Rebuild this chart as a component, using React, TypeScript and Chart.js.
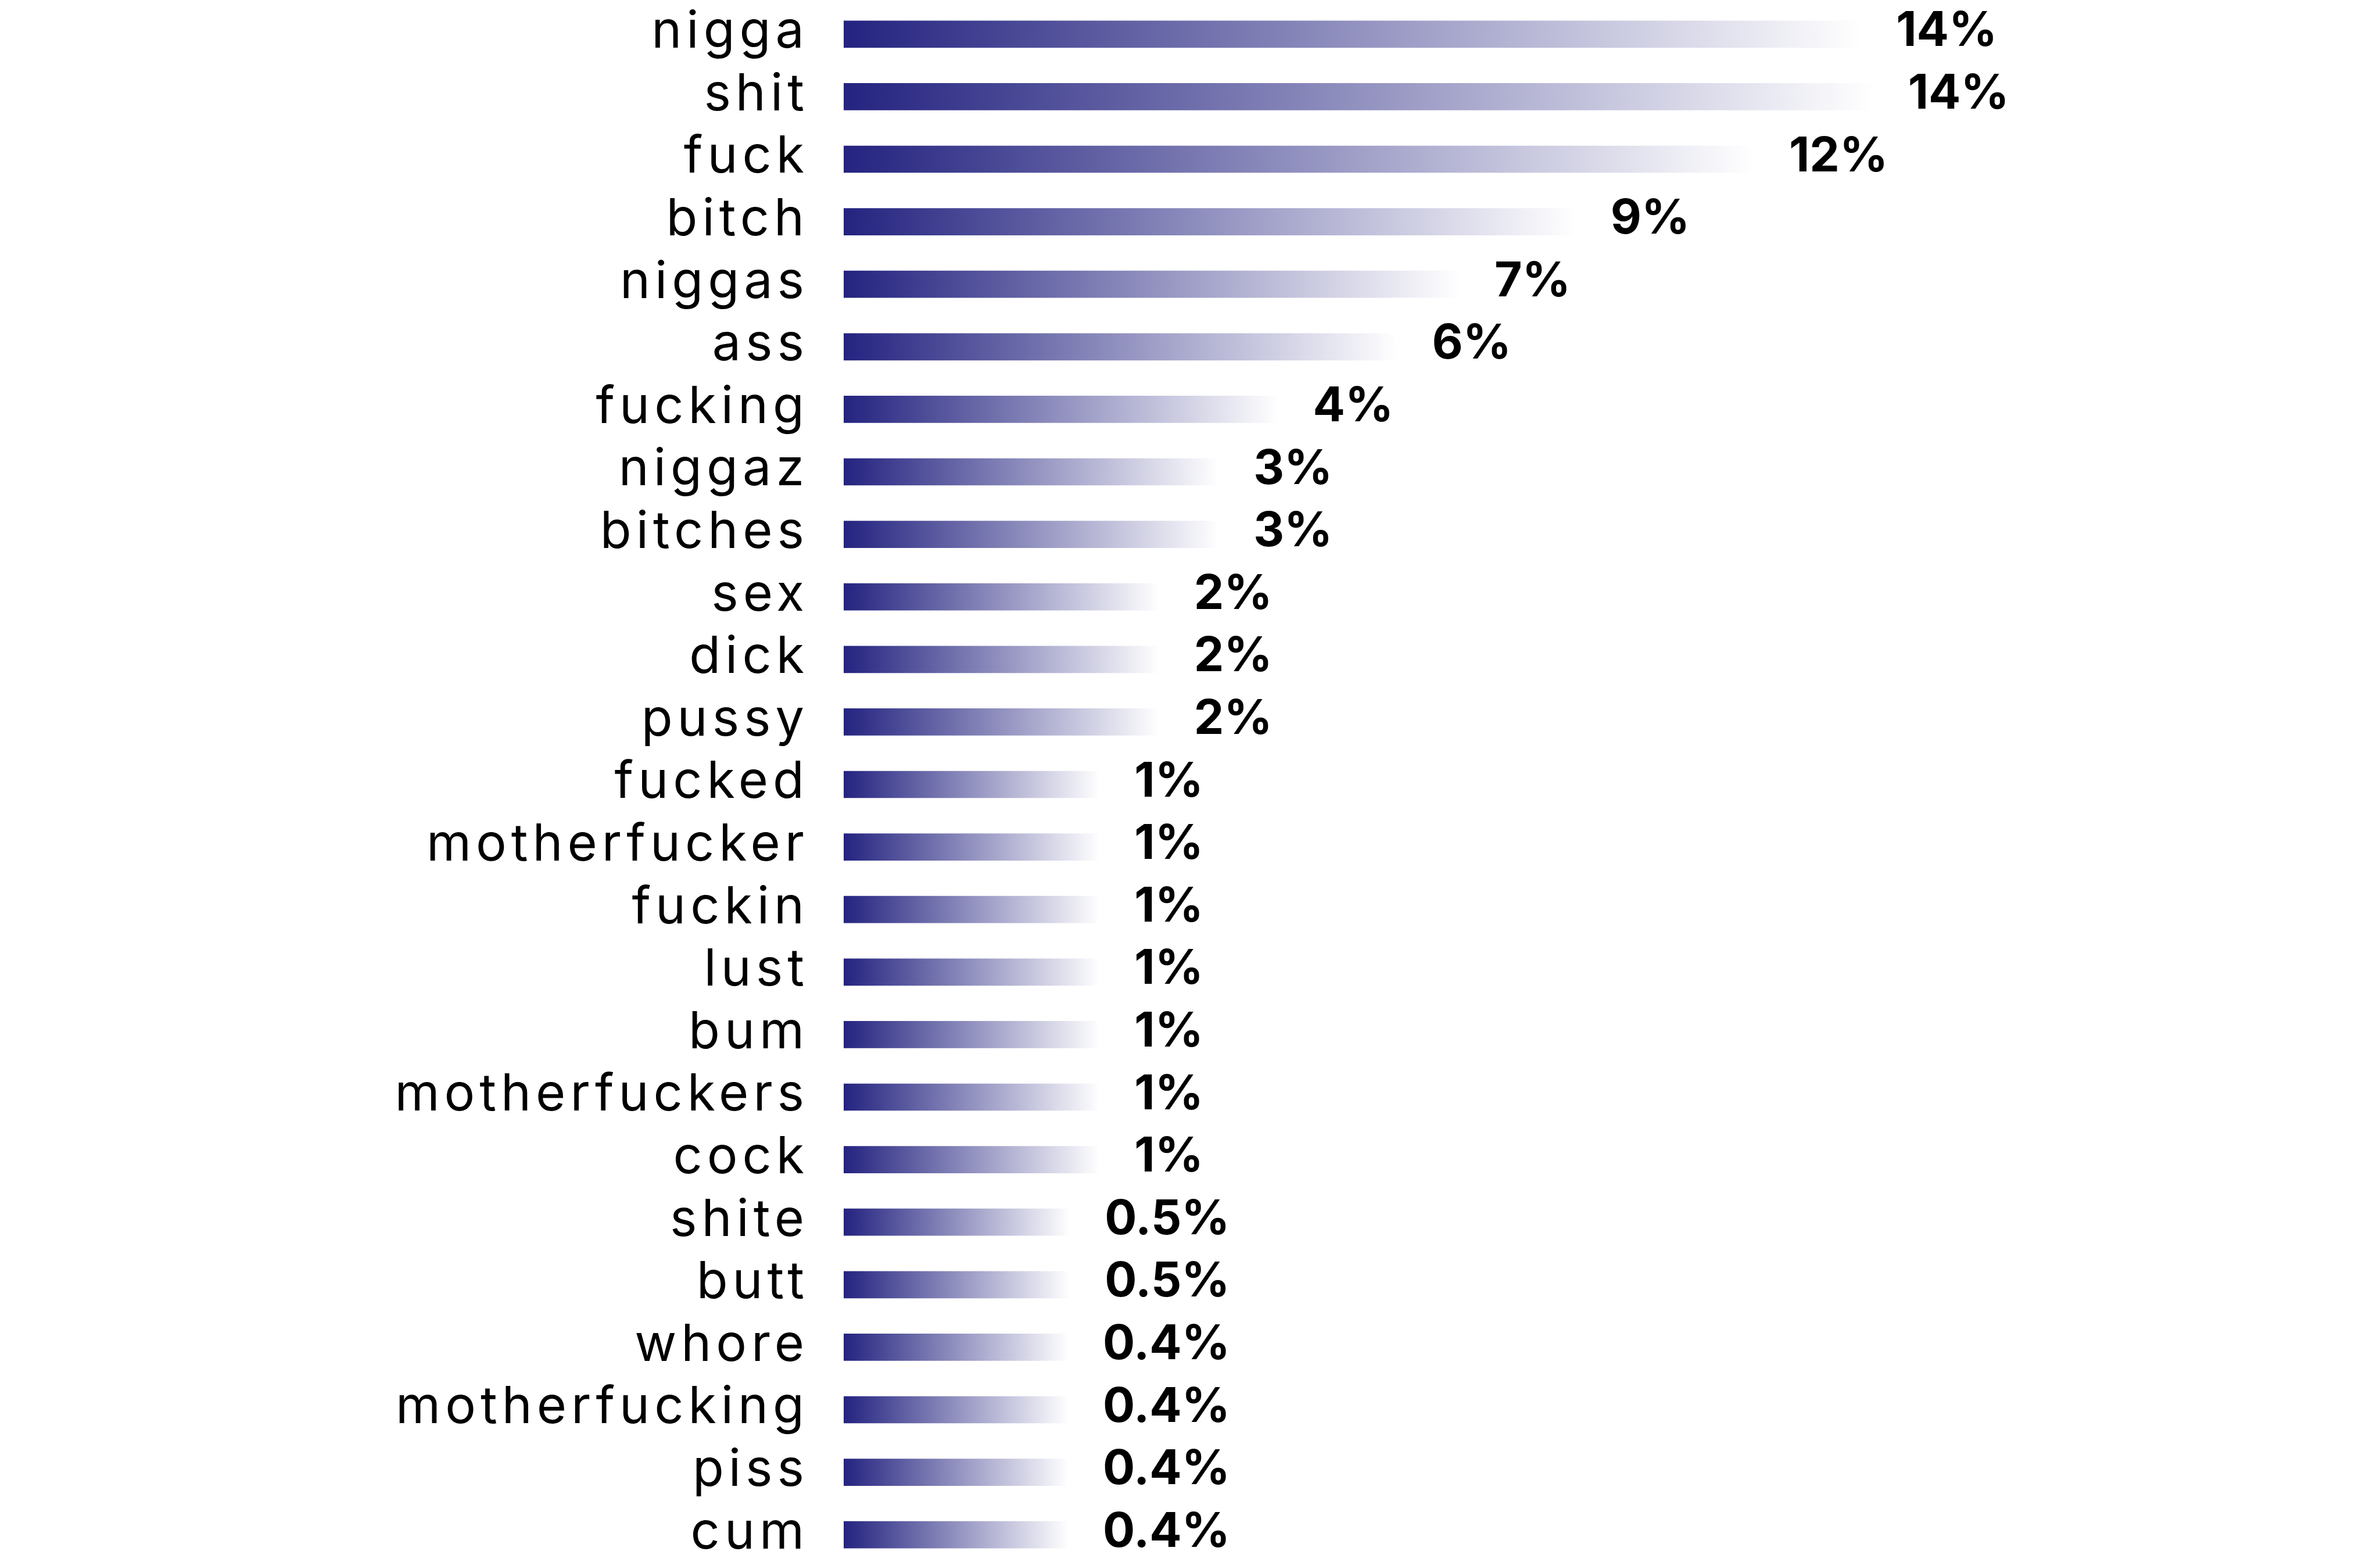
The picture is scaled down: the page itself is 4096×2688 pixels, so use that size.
import React, { useEffect, useRef } from "react";
import { Chart, registerables } from "chart.js";

Chart.register(...registerables);

const CATEGORIES = [
  "nigga", "shit", "fuck", "bitch", "niggas", "ass", "fucking", "niggaz", "bitches",
  "sex", "dick", "pussy", "fucked", "motherfucker", "fuckin", "lust", "bum",
  "motherfuckers", "cock", "shite", "butt", "whore", "motherfucking", "piss", "cum",
];

// share of occurrences, in percent
const VALUES = [
  13.8, 14.0, 12.0, 9.0, 7.05, 6.0, 4.0, 3.0, 3.0,
  2.0, 2.0, 2.0, 1.0, 1.0, 1.0, 1.0, 1.0,
  1.0, 1.0, 0.5, 0.5, 0.47, 0.47, 0.47, 0.47,
];

const VALUE_LABELS = [
  "14%", "14%", "12%", "9%", "7%", "6%", "4%", "3%", "3%",
  "2%", "2%", "2%", "1%", "1%", "1%", "1%", "1%",
  "1%", "1%", "0.5%", "0.5%", "0.4%", "0.4%", "0.4%", "0.4%",
];

const AXIS_START = -3.3;
const AXIS_END = 22;

const DARK = "rgb(36,35,128)";

const spacingPlugin = {
  id: "labelSpacing",
  beforeDraw(chart: any) {
    chart.ctx.letterSpacing = "8px";
  },
  beforeDatasetsDraw(chart: any) {
    chart.ctx.letterSpacing = "0px";
  },
};

const valueLabelPlugin = {
  id: "valueLabels",
  afterDatasetsDraw(chart: any) {
    const ctx = chart.ctx;
    const meta = chart.getDatasetMeta(0);
    ctx.save();
    ctx.letterSpacing = "0px";
    ctx.font = "700 82px Inter";
    ctx.fillStyle = "#000000";
    ctx.textAlign = "left";
    ctx.textBaseline = "middle";
    meta.data.forEach((el: any, i: number) => {
      ctx.fillText(VALUE_LABELS[i], el.x + 60, el.y - 4);
    });
    ctx.restore();
  },
};

export default function App() {
  const canvasRef = useRef<HTMLCanvasElement | null>(null);

  useEffect(() => {
    const canvas = canvasRef.current;
    if (!canvas) return;
    const chart = new Chart(canvas, {
      type: "bar",
      data: {
        labels: CATEGORIES,
        datasets: [
          {
            data: VALUES,
            base: AXIS_START,
            borderWidth: 0,
            barPercentage: 0.434,
            categoryPercentage: 1,
            backgroundColor: (c: any) => {
              const ch = c.chart;
              const xs = ch.scales && ch.scales.x;
              if (!xs || c.dataIndex === undefined) return DARK;
              const x0 = xs.getPixelForValue(AXIS_START);
              const x1 = xs.getPixelForValue(VALUES[c.dataIndex]);
              if (!isFinite(x0) || !isFinite(x1) || x1 <= x0) return DARK;
              const g = ch.ctx.createLinearGradient(x0, 0, x1, 0);
              g.addColorStop(0, DARK);
              g.addColorStop(1, "rgba(255,255,255,1)");
              return g;
            },
          } as any,
        ],
      },
      options: {
        indexAxis: "y",
        animation: false,
        responsive: false,
        devicePixelRatio: 1,
        layout: { padding: { top: 5, right: 53, bottom: 0, left: 0 } },
        plugins: {
          legend: { display: false },
          tooltip: { enabled: false },
        },
        scales: {
          x: {
            type: "linear",
            min: AXIS_START,
            max: AXIS_END,
            display: false,
          },
          y: {
            type: "category",
            grid: { display: false, drawTicks: false },
            border: { display: false },
            ticks: {
              autoSkip: false,
              color: "#000000",
              font: { family: "Inter", size: 88, weight: "400" },
              padding: 60,
              labelOffset: -3,
            },
            afterFit: (s: any) => {
              s.width = 1452;
              s.paddingTop = 0;
              s.paddingBottom = 0;
            },
          },
        },
      } as any,
      plugins: [spacingPlugin, valueLabelPlugin],
    });
    return () => chart.destroy();
  }, []);

  return (
    <div
      style={{
        position: "fixed",
        left: 0,
        top: 0,
        width: 4096,
        height: 2688,
        overflow: "hidden",
        background: "#ffffff",
      }}
    >
      <canvas
        ref={canvasRef}
        width={4096}
        height={2695}
        style={{ display: "block", width: 4096, height: 2695 }}
      />
    </div>
  );
}
